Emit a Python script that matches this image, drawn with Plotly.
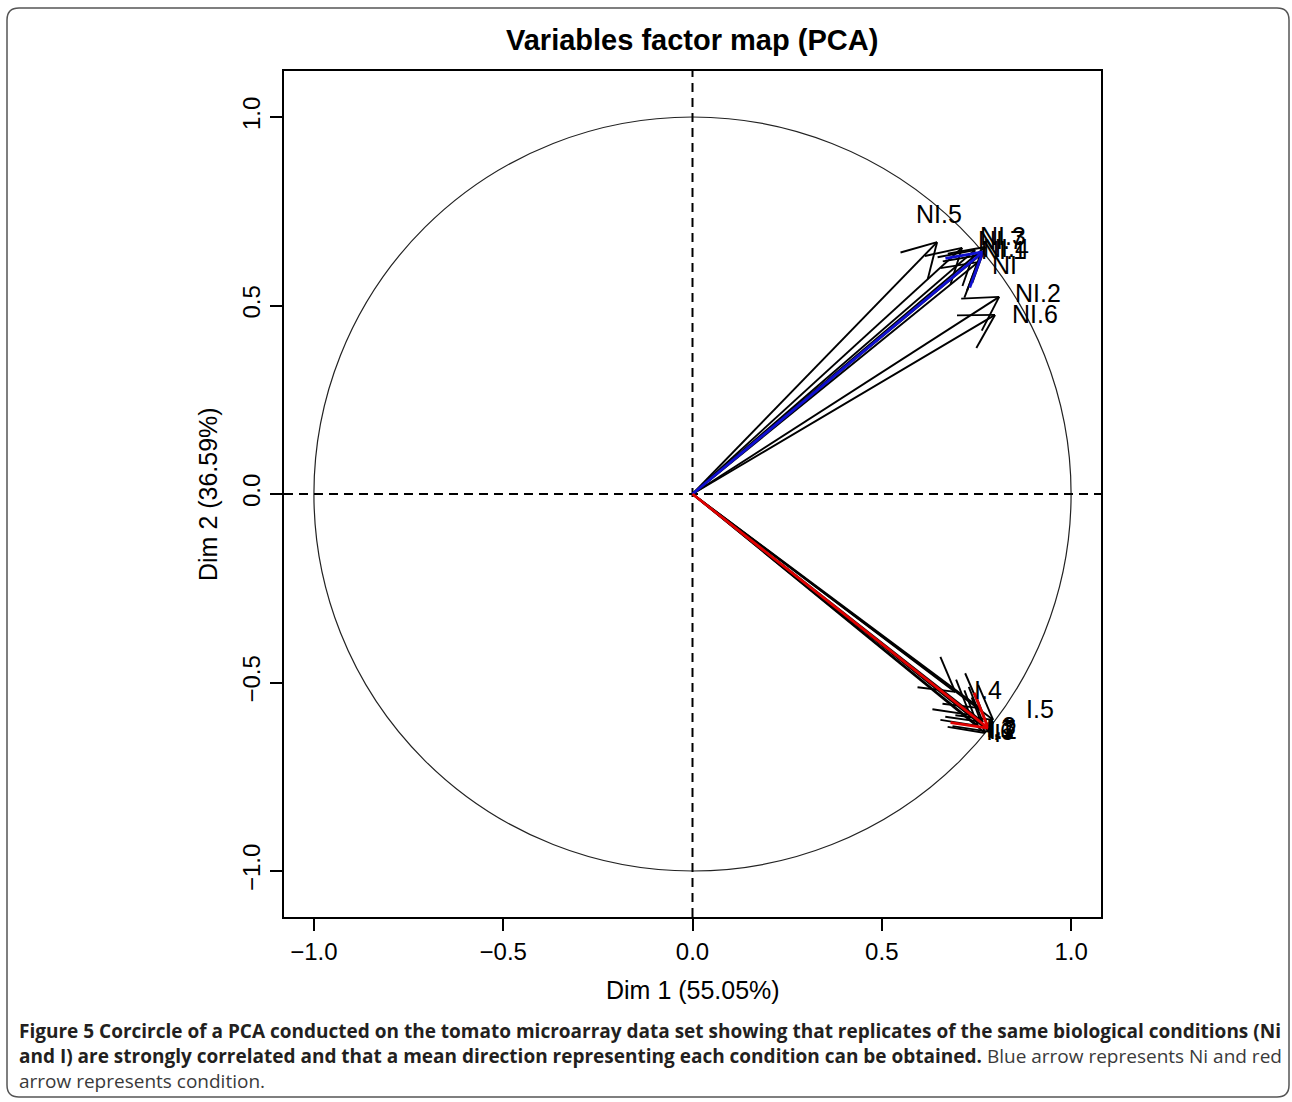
import numpy as np
import plotly.graph_objects as go

# ---------------- data ----------------
ni_names = ["NI", "NI.1", "NI.2", "NI.3", "NI.4", "NI.5", "NI.6", "NI.7"]
ni_dim1 = [0.754, 0.712, 0.810, 0.773, 0.760, 0.646, 0.799, 0.746]
ni_dim2 = [0.615, 0.653, 0.523, 0.655, 0.634, 0.668, 0.475, 0.647]

i_names = ["I", "I.1", "I.2", "I.3", "I.4", "I.5", "I.6", "I.7"]
i_dim1 = [0.773, 0.754, 0.786, 0.767, 0.760, 0.794, 0.694, 0.733]
i_dim2 = [-0.634, -0.615, -0.631, -0.605, -0.568, -0.599, -0.525, -0.586]

mean_ni = [0.767, 0.642]   # blue arrow
mean_i = [0.781, -0.621]   # red arrow

tick_vals = [-1.0, -0.5, 0.0, 0.5, 1.0]
tick_text = ["\u22121.0", "\u22120.5", "0.0", "0.5", "1.0"]

title_text = "Variables factor map (PCA)"
xlab = "Dim 1 (55.05%)"
ylab = "Dim 2 (36.59%)"
caption_1 = "<b>Figure 5</b> <b>Corcircle of a PCA conducted on the tomato microarray data set showing that replicates of the same biological conditions (Ni</b>"
caption_2 = "<b>and I) are strongly correlated and that a mean direction representing each condition can be obtained.</b> <span style='color:#3a3a3a'>Blue arrow represents Ni and red</span>"
caption_3 = "<span style='color:#3a3a3a'>arrow represents condition.</span>"

# ---------------- styles / layout ----------------
W, H = 1292, 1102
PL, PR, PT, PB = 284, 1101, 71, 917
XR = [-1.079, 1.079]
YR = [-1.122, 1.122]
SX = (PR - PL) / (XR[1] - XR[0])
SY = (PB - PT) / (YR[1] - YR[0])
HEAD = 38.0  # arrowhead length in px
HEAD_ANG = np.deg2rad(30)
FONT = "Liberation Sans, Arial, sans-serif"

label_offsets = {
    "NI.5": (2, 28), "NI.3": (18, 11), "NI.7": (26, 10), "NI.4": (26, 7),
    "NI.1": (42, -2), "NI": (27, -3), "NI.2": (39, 4), "NI.6": (40, 1),
    "I.4": (8, 18), "I.5": (47, 11), "I": (12, 0), "I.1": (22, -2),
    "I.2": (13, 2), "I.3": (19, -4), "I.6": (45, -39), "I.7": (32, -14),
}


def arrow_xy(x, y):
    px, py = x * SX, y * SY
    ang = np.arctan2(py, px)
    xs, ys = [0, x, None], [0, y, None]
    for s in (1, -1):
        a = ang + np.pi + s * HEAD_ANG
        wx = (px + HEAD * np.cos(a)) / SX
        wy = (py + HEAD * np.sin(a)) / SY
        xs += [x, wx, None]
        ys += [y, wy, None]
    return xs, ys


fig = go.Figure()

bx, by = [], []
for xv, yv in zip(ni_dim1 + i_dim1, ni_dim2 + i_dim2):
    ax_, ay_ = arrow_xy(xv, yv)
    bx += ax_
    by += ay_
fig.add_trace(go.Scatter(x=bx, y=by, mode="lines", line=dict(color="black", width=1.9),
                         hoverinfo="skip", showlegend=False))

for m, col in ((mean_ni, "#1010d0"), (mean_i, "#e00000")):
    ax_, ay_ = arrow_xy(m[0], m[1])
    fig.add_trace(go.Scatter(x=ax_, y=ay_, mode="lines", line=dict(color=col, width=2.8),
                             hoverinfo="skip", showlegend=False))

annotations = []
for names, xs, ys in ((ni_names, ni_dim1, ni_dim2), (i_names, i_dim1, i_dim2)):
    for n, xv, yv in zip(names, xs, ys):
        dx, dy = label_offsets[n]
        annotations.append(dict(x=xv, y=yv, xref="x", yref="y", text=n, showarrow=False,
                                xshift=dx, yshift=dy, xanchor="center", yanchor="middle",
                                font=dict(family=FONT, size=25, color="black")))


def P(px, py):
    return px / W, 1 - py / H


annotations += [
    dict(x=P(692, 0)[0], y=P(0, 40)[1], xref="paper", yref="paper", text="<b>" + title_text + "</b>",
         showarrow=False, xanchor="center", yanchor="middle",
         font=dict(family=FONT, size=29, color="black")),
    dict(x=P(692.5, 0)[0], y=P(0, 990)[1], xref="paper", yref="paper", text=xlab,
         showarrow=False, xanchor="center", yanchor="middle",
         font=dict(family=FONT, size=25, color="black")),
    dict(x=P(208, 0)[0], y=P(0, 494)[1], xref="paper", yref="paper", text=ylab, textangle=-90,
         showarrow=False, xanchor="center", yanchor="middle",
         font=dict(family=FONT, size=25, color="black")),
]
cap_font = dict(family="Open Sans, Noto Sans, sans-serif", size=19, color="#231f20")
for txt, py in ((caption_1, 1031), (caption_2, 1056), (caption_3, 1081)):
    annotations.append(dict(x=P(17, 0)[0], y=P(0, py)[1], xref="paper", yref="paper", text=txt,
                            showarrow=False, xanchor="left", yanchor="middle", align="left",
                            font=cap_font))

# rounded outer frame
x0, y0, x1, y1, r = 7, 8, 1289, 1097, 12


def pt(px, py):
    a, b = P(px, py)
    return f"{a:.5f},{b:.5f}"


frame = (f"M {pt(x0 + r, y0)} L {pt(x1 - r, y0)} Q {pt(x1, y0)} {pt(x1, y0 + r)} "
         f"L {pt(x1, y1 - r)} Q {pt(x1, y1)} {pt(x1 - r, y1)} "
         f"L {pt(x0 + r, y1)} Q {pt(x0, y1)} {pt(x0, y1 - r)} "
         f"L {pt(x0, y0 + r)} Q {pt(x0, y0)} {pt(x0 + r, y0)} Z")

shapes = [
    dict(type="path", path=frame, xref="paper", yref="paper", line=dict(color="#555", width=1.5)),
    dict(type="circle", xref="x", yref="y", x0=-1, y0=-1, x1=1, y1=1,
         line=dict(color="#222", width=1.2), layer="below"),
    dict(type="line", xref="x", yref="y", x0=XR[0], x1=XR[1], y0=0, y1=0,
         line=dict(color="black", width=2, dash="9px,6px"), layer="below"),
    dict(type="line", xref="x", yref="y", x0=0, x1=0, y0=YR[0], y1=YR[1],
         line=dict(color="black", width=2, dash="9px,6px"), layer="below"),
]

axis_common = dict(showgrid=False, zeroline=False, showline=True, mirror=True,
                   linecolor="black", linewidth=2, ticks="outside", ticklen=12,
                   tickwidth=2, tickcolor="black", tickvals=tick_vals, ticktext=tick_text,
                   tickfont=dict(family=FONT, size=24, color="black"), fixedrange=True)

fig.update_layout(
    width=W, height=H, margin=dict(l=0, r=0, t=0, b=0),
    paper_bgcolor="white", plot_bgcolor="white",
    xaxis=dict(domain=[PL / W, PR / W], range=XR, **axis_common),
    yaxis=dict(domain=[1 - PB / H, 1 - PT / H], range=YR, tickangle=-90, **axis_common),
    annotations=annotations, shapes=shapes, showlegend=False,
)

fig.write_html("out.html")
